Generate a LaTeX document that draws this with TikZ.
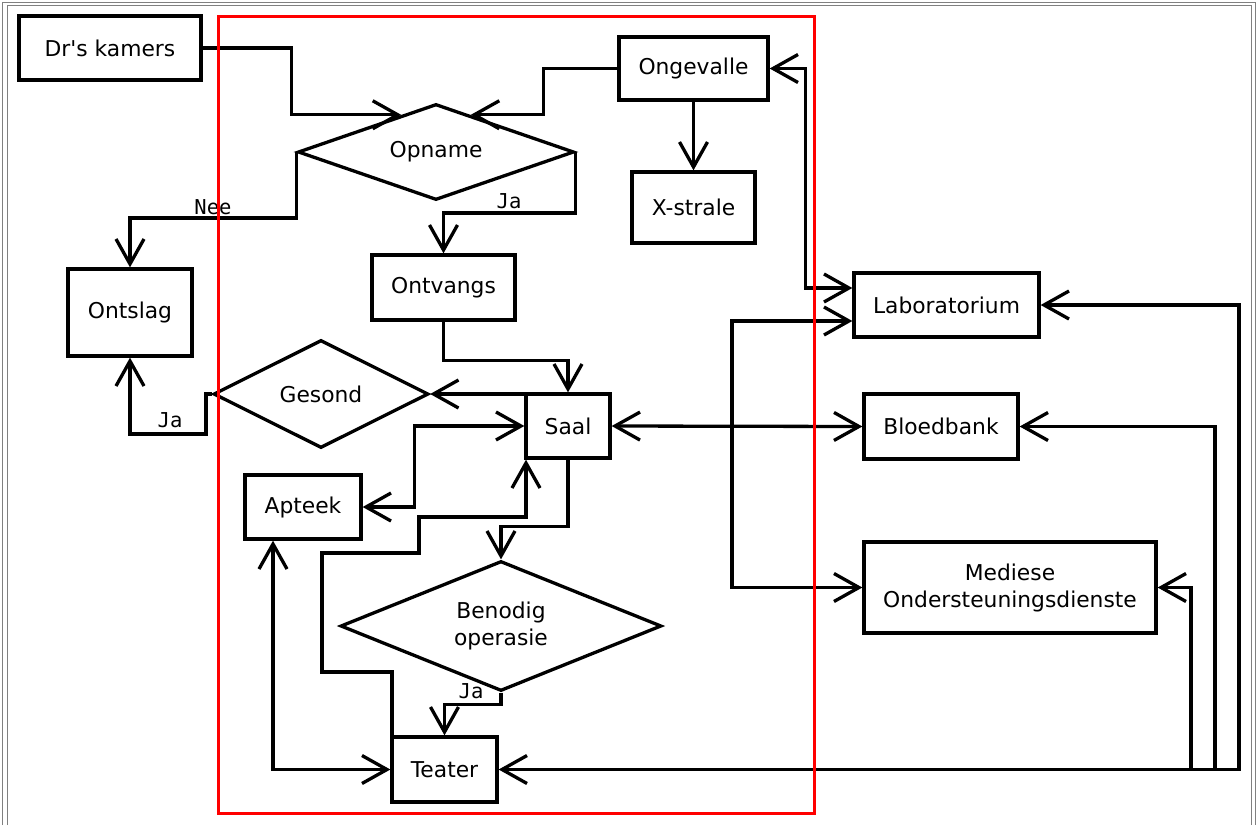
\documentclass[tikz,border=0pt]{standalone}
\usepackage{fontspec}
\setmainfont{DejaVu Sans}
\newfontfamily\labelfont{DejaVu Sans Mono}
\usetikzlibrary{shapes.geometric,arrows.meta,calc}

\tikzset{
  box/.style={draw, line width=3.3pt, fill=white, inner sep=0pt,
    font=\fontsize{21.8}{27}\selectfont, align=center},
  decision/.style={draw, diamond, line width=3.3pt, fill=white, inner sep=0pt,
    font=\fontsize{21.8}{27}\selectfont, align=center},
  flow/.style={line width=3.3pt, line join=miter},
  tip/.style={-{Straight Barb[length=25pt,width=28pt]}},
  bitip/.style={{Straight Barb[length=25pt,width=28pt]}-{Straight Barb[length=25pt,width=28pt]}},
  lbl/.style={font=\labelfont\fontsize{20.5}{24}\selectfont, anchor=base, inner sep=0pt},
  frame/.style={draw=gray, line width=1pt}
}

\begin{document}
\begin{tikzpicture}[x=1pt,y=-1pt]
\useasboundingbox (0,0) rectangle (1258,825);

% outer window frame, open at the bottom
\draw[frame] (2,825) -- (2,2) -- (1255,2) -- (1255,825);
\draw[frame] (7,825) -- (7,5) -- (1251,5) -- (1251,825);

% --- nodes ---
\node[box, minimum width=182pt, minimum height=64pt] (dr)   at (110,48)  {Dr\textquotesingle s kamers};
\node[box, minimum width=149pt, minimum height=63pt] (ong)  at (693.5,68.5) {Ongevalle};
\node[box, minimum width=123pt, minimum height=71pt] (xs)   at (693.5,207.5) {X-strale};
\node[decision, aspect=2.875, minimum width=276pt, minimum height=96pt] (opn) at (436,152) {Opname};
\node[box, minimum width=124pt, minimum height=87pt] (ontsl) at (130,312.5) {Ontslag};
\node[box, minimum width=143pt, minimum height=65pt] (ontv) at (443.5,287.5) {Ontvangs};
\node[box, minimum width=185pt, minimum height=64pt] (lab)  at (946.5,305) {Laboratorium};
\node[box, minimum width=84pt,  minimum height=64pt] (saal) at (568,426) {Saal};
\node[decision, aspect=1.99, minimum width=215pt, minimum height=108pt] (ges) at (321,394) {Gesond};
\node[box, minimum width=154pt, minimum height=65pt] (bb)   at (941,426.5) {Bloedbank};
\node[box, minimum width=116pt, minimum height=64pt] (apt)  at (303,507) {Apteek};
\node[decision, aspect=2.47, minimum width=321pt, minimum height=130pt] (ben) at (501,626) {Benodig\\operasie};
\node[box, minimum width=292pt, minimum height=91pt] (med)  at (1010,587.5) {Mediese\\Ondersteuningsdienste};
\node[box, minimum width=105pt, minimum height=65pt] (teat) at (444.5,769.5) {Teater};

% entry points on the upper edges of the Opname diamond
\coordinate (opnL) at ($(opn.west)!0.75!(opn.north)$);
\coordinate (opnR) at ($(opn.east)!0.75!(opn.north)$);

% --- connectors ---
\draw[flow,tip] (dr.east) -- ++(89,0) |- (opnL);
\draw[flow,tip] (ong.west) -- ++(-74,0) |- (opnR);
\draw[flow,tip] (ong.south) -- (xs.north);
\draw[flow,bitip] (ong.east) -- ++(36,0) |- ($(lab.west)+(0,-17)$);

\draw[flow,tip] (opn.west) -- ++(0,66) -| (ontsl.north);
\node[lbl] (nee) at (213,214) {Nee};
\draw[flow,tip] (opn.east) -- ++(0,61) -| (ontv.north);
\node[lbl] (ja1) at (509,208) {Ja};

\draw[flow,tip] (ontv.south) -- ++(0,39) -| (saal.north);
\draw[flow,tip] ([xshift=1.65pt,yshift=-1.65pt]saal.north west) -- (ges.east);
\draw[flow,tip] (ges.west) -- ++(-6,0) -- ++(0,40) -| (ontsl.south);
\node[lbl] (ja2) at (170,427) {Ja};

\draw[flow,bitip] (saal.west) -- ++(-110,0) |- (apt.east);
\draw[flow,tip] ([xshift=1.65pt,yshift=-1.65pt]teat.north west) -- ++(0,-65) -- ++(-70,0)
  -- ++(0,-119) -- ++(97,0) -- ++(0,-36) -| ([xshift=1.65pt]saal.south west);
\draw[flow,tip] (saal.south) -- ++(0,67) -| (ben.north);
\draw[flow,tip] (ben.south) -- ++(0,12) -| (teat.north);
\node[lbl] (ja3) at (471,698) {Ja};
\draw[flow,bitip] ($(apt.south)+(-30,0)$) |- (teat.west);

% ward to support services
\draw[flow,bitip] (saal.east) -- (bb.west);
\coordinate (hub) at (732,426);
\draw[flow,tip] (hub) |- ($(lab.west)+(0,16)$);
\draw[flow,tip] (hub) |- (med.west);

% theatre to support services
\draw[flow,bitip] (teat.east) -- (1239,769.5) |- (lab.east);
\draw[flow,tip] (1215,769.5) |- (bb.east);
\draw[flow,tip] (1191,769.5) |- (med.east);

% hospital boundary
\draw[red, line width=3pt] (218,16) rectangle (814,813);
\end{tikzpicture}
\end{document}
